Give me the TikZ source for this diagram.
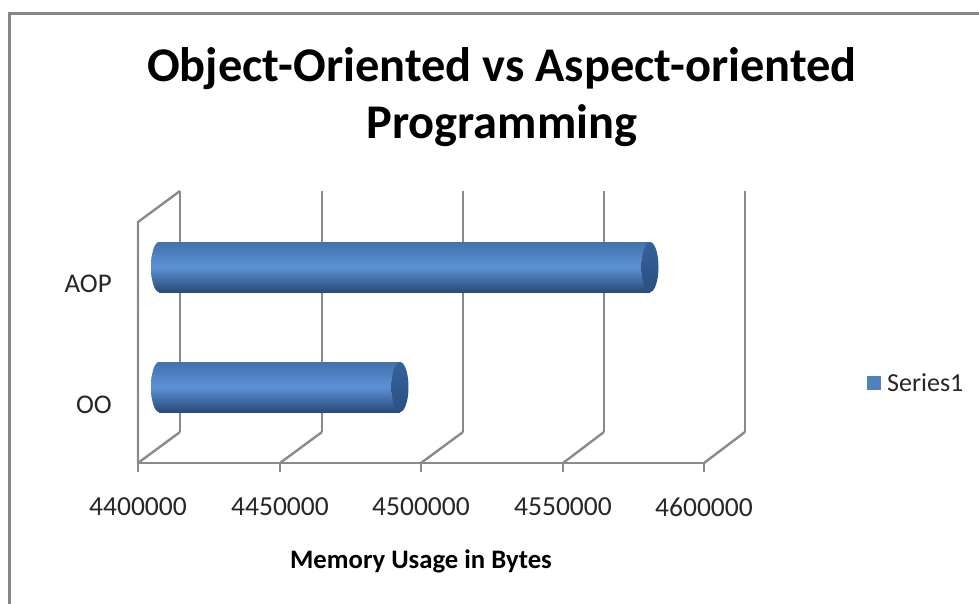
\documentclass[tikz,border=0pt]{standalone}
\usepackage{fontspec}
\setmainfont{Carlito}
\definecolor{gridgray}{HTML}{8A8A8A}
\definecolor{framegray}{HTML}{868686}
\definecolor{bartop}{HTML}{4270AC}
\definecolor{barmid}{HTML}{5B92D6}
\definecolor{barbot}{HTML}{294A78}
\definecolor{capblue}{HTML}{35619A}
\definecolor{capdark}{HTML}{2B5082}
\definecolor{keyblue}{HTML}{4F81BD}
\begin{document}
\begin{tikzpicture}[x=1pt,y=-1pt,
  grid/.style={draw=gridgray,line width=2.4pt},
  cylbody/.style={top color=bartop,bottom color=barbot,middle color=barmid},
  cylcap/.style={top color=capblue,bottom color=capdark},
  ticklabel/.style={font=\fontsize{27.5}{30}\selectfont,text=black!85,inner sep=0pt},
  catlabel/.style={font=\fontsize{27}{30}\selectfont,text=black!85,inner sep=0pt,anchor=east}]
% page frame
\useasboundingbox (0,0) rectangle (979,604);
\draw[framegray,line width=3pt] (9.5,604) -- (9.5,13.5) -- (979,13.5);

% title
\node[font=\bfseries\fontsize{48.4}{57}\selectfont,align=center,inner sep=0pt] (title) at (502,97)
  {Object-Oriented vs Aspect-oriented\\Programming};

% back wall verticals
\foreach \x in {180,322,463,604,745}
  \draw[grid] (\x,191) -- (\x,432);
% side wall front edge and its top
\draw[grid] (138,463) -- (138,222) -- (180,191);
% floor: front edge, depth lines and ticks
\draw[grid] (138,463) -- (704,463);
\foreach \xf/\xb in {138/180,280/322,421/463,563/604,704/745}{
  \draw[grid] (\xf,463) -- (\xb,432);
  \draw[grid] (\xf,463) -- (\xf,472);
}

% AOP cylinder: rounded back end, body, front cap
\shade[cylbody] (159,267) ellipse [x radius=8, y radius=25];
\shade[cylbody] (159,242) rectangle (650,292);
\shade[cylcap] (650,267) ellipse [x radius=8.5, y radius=25];
% OO cylinder
\shade[cylbody] (159,387) ellipse [x radius=8, y radius=25];
\shade[cylbody] (159,362) rectangle (400,412);
\shade[cylcap] (400,387) ellipse [x radius=8.5, y radius=25];

% category labels
\node[catlabel] (aop) at (112,284) {AOP};
\node[catlabel] (oo) at (112,405) {OO};

% value axis labels
\node[ticklabel] (t1) at (138,507) {4400000};
\node[ticklabel] (t2) at (280,507) {4450000};
\node[ticklabel] (t3) at (421,507) {4500000};
\node[ticklabel] (t4) at (563,507) {4550000};
\node[ticklabel] (t5) at (704,507) {4600000};

% axis title
\node[font=\bfseries\fontsize{26.7}{30}\selectfont,inner sep=0pt] (xtitle) at (421,561) {Memory Usage in Bytes};

% legend
\fill[keyblue] (867,376) rectangle (881,390);
\node[font=\fontsize{26}{30}\selectfont,text=black!85,anchor=west,inner sep=0pt] (legend) at (887,383) {Series1};
\end{tikzpicture}
\end{document}
